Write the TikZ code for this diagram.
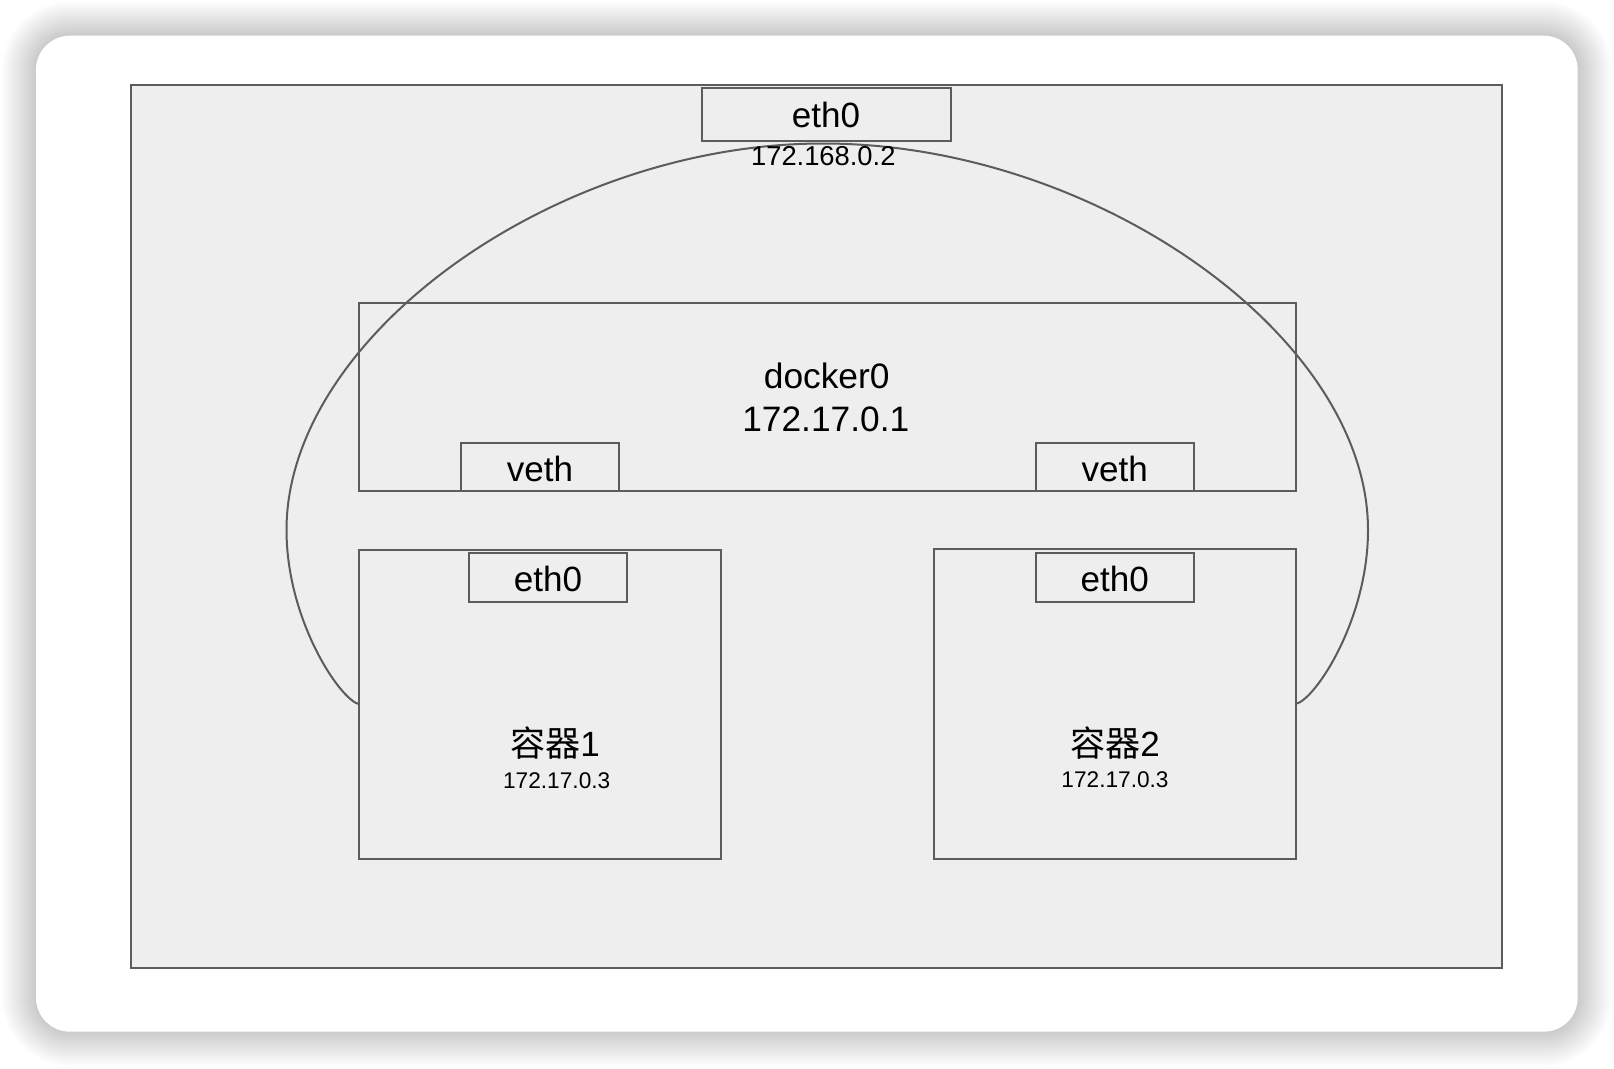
\documentclass[tikz,border=0pt]{standalone}
\usepackage{fontspec}
\setmainfont{Liberation Sans}
\newfontfamily\cjkfont{Noto Sans CJK SC}
\usetikzlibrary{fit}
\definecolor{linegray}{HTML}{5C5C5C}
\definecolor{boxfill}{HTML}{EEEEEE}
\begin{document}
\begin{tikzpicture}[x=0.75pt,y=-0.75pt,
  box/.style={draw=linegray, fill=boxfill, line width=1.5pt, inner sep=0pt, outer sep=0pt},
  wire/.style={draw=linegray, line width=1.5pt},
  lbl/.style={anchor=base, inner sep=0pt, text=black, font=\fontsize{26.3}{30}\selectfont},
  biglbl/.style={anchor=base, inner sep=0pt, text=black, font=\fontsize{26.5}{31}\selectfont},
  iplbl/.style={anchor=base, inner sep=0pt, text=black, font=\fontsize{20.5}{24}\selectfont},
  smallip/.style={anchor=base, inner sep=0pt, text=black, font=\fontsize{17}{20}\selectfont}]
\useasboundingbox (0,0) rectangle (1614,1068);
\fill[white] (0,0) rectangle (1614,1068);
% card shadow
\foreach \d in {2,4,...,34}{
  \pgfmathsetmacro\rr{(34+\d)*0.75}
  \fill[black, opacity=0.012, rounded corners=\rr pt] (36-\d,35.7-\d) rectangle (1577.7+\d,1031.7+\d);
}
\fill[white, rounded corners=25.5pt] (36,35.7) rectangle (1577.7,1031.7);
% boxes
\node[box, fit={(130.7,85.4) (1501.7,967.5)}] (host) {};
\node[box, fit={(701.7,87.7) (950.7,140.7)}] (eth) {};
\node[box, fit={(359,302.7) (1295.7,491.3)}] (docker) {};
\node[box, fit={(461.3,442.7) (619,491.3)}] (vethA) {};
\node[box, fit={(1035.7,442.7) (1193.7,491.3)}] (vethB) {};
\node[box, fit={(359.3,550) (720.5,858.5)}] (cA) {};
\node[box, fit={(933.6,549.3) (1295.7,858.5)}] (cB) {};
\node[box, fit={(469.4,552.7) (626.8,602)}] (ethA) {};
\node[box, fit={(1035.7,552.7) (1193.7,602)}] (ethB) {};
% connector
\draw[wire] (cA.west) .. controls (340,700) and (286.5,620) .. (286.5,530)
  .. controls (286.5,336.75) and (554.75,143.5) .. (823,143.5)
  .. controls (1095.5,143.5) and (1368,336.75) .. (1368,530)
  .. controls (1368,620) and (1315,700) .. (cB.east);
% labels
\node[lbl] (tEth) at (826,127) {eth0};
\node[iplbl] (tEthIp) at (823.3,165) {172.168.0.2};
\node[biglbl] (tDocker) at (826.7,388.3) {docker0};
\node[biglbl] (tDockerIp) at (825.8,431.7) {172.17.0.1};
\node[lbl] (tVethA) at (540,481) {veth};
\node[lbl] (tVethB) at (1114.7,481) {veth};
\node[lbl] (tEthA) at (548,591) {eth0};
\node[lbl] (tEthB) at (1114.7,591) {eth0};
\node[lbl] (tCA) at (555,756) {{\cjkfont 容器}1};
\node[smallip] (tCAip) at (556.7,788) {172.17.0.3};
\node[lbl] (tCB) at (1115,756.5) {{\cjkfont 容器}2};
\node[smallip] (tCBip) at (1115,787) {172.17.0.3};
\end{tikzpicture}
\end{document}
